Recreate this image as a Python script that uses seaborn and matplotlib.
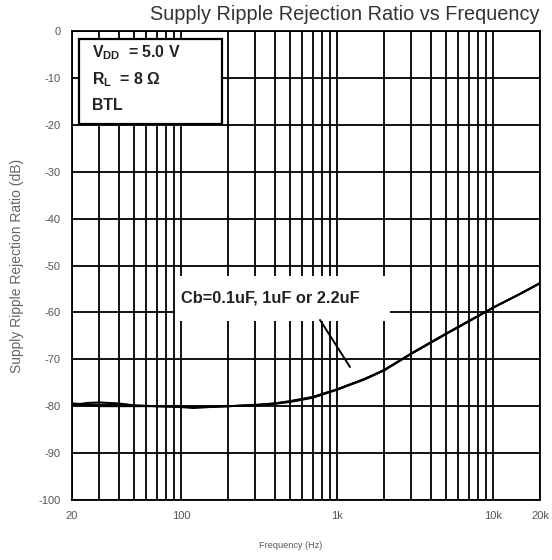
import matplotlib
matplotlib.use("Agg")
import matplotlib.pyplot as plt
from matplotlib.patches import Rectangle
import numpy as np
import pandas as pd
import seaborn as sns

# Frequency points (Hz) and PSRR curves (dB) for the three bypass capacitors
freq_hz = [20, 25, 30, 40, 50, 70, 100, 120, 150, 200, 300, 400, 500, 700,
           1000, 1500, 2000, 3000, 5000, 7000, 10000, 15000, 20000]
psrr_cb_0u1 = [-79.4, -79.6, -79.7, -79.5, -79.8, -80.0, -80.1, -80.2, -80.1, -80.0,
               -79.8, -79.5, -79.1, -78.2, -76.5, -74.3, -72.4, -68.8, -64.6, -61.9,
               -59.0, -56.0, -53.8]
psrr_cb_1u = [-79.8, -79.3, -79.2, -79.4, -79.9, -80.0, -80.2, -80.4, -80.2, -80.0,
              -79.8, -79.4, -79.0, -78.1, -76.4, -74.2, -72.3, -68.8, -64.6, -61.9,
              -59.0, -56.0, -53.8]
psrr_cb_2u2 = [-79.6, -79.8, -80.0, -80.0, -80.0, -80.0, -80.0, -80.1, -80.1, -80.0,
               -79.7, -79.4, -78.9, -78.0, -76.4, -74.2, -72.3, -68.7, -64.5, -61.8,
               -59.0, -56.0, -53.7]
cb_labels = ["0.1uF", "1uF", "2.2uF"]

x_tick_values = [20, 100, 1000, 10000, 20000]
x_tick_labels = ["20", "100", "1k", "10k", "20k"]
y_tick_values = list(range(-100, 1, 10))

title = "Supply Ripple Rejection Ratio vs Frequency"
x_label = "Frequency (Hz)"
y_label = "Supply Ripple Rejection Ratio (dB)"
cond_lines = ["V$_\\mathregular{DD}$  = 5.0 V", "R$_\\mathregular{L}$  = 8 Ω", "BTL"]
curve_note = "Cb=0.1uF, 1uF or 2.2uF"

df = pd.concat([
    pd.DataFrame({"freq": freq_hz, "psrr": vals, "cb": lab})
    for vals, lab in zip([psrr_cb_0u1, psrr_cb_1u, psrr_cb_2u2], cb_labels)
])

sns.set_style("white")
plt.rcParams["font.family"] = ["Liberation Sans", "DejaVu Sans"]

fig = plt.figure(figsize=(5.52, 5.60), dpi=100)
ax = fig.add_axes([72 / 552, 1 - 500 / 560, 468 / 552, 469 / 560])

sns.lineplot(data=df, x="freq", y="psrr", hue="cb", units="cb", estimator=None,
             palette=["black"] * 3, linewidth=1.4, legend=False, ax=ax, zorder=3)

ax.set_xscale("log")
ax.set_xlim(20, 20000)
ax.set_ylim(-100, 0)

minor = [m * d for d in (10, 100, 1000) for m in range(2, 10)]
minor = [v for v in minor if 20 < v < 20000 and v not in x_tick_values]
ax.set_xticks(x_tick_values)
ax.set_xticklabels(x_tick_labels)
ax.set_xticks(minor, minor=True)
ax.set_yticks(y_tick_values)
ax.set_yticklabels([str(v) for v in y_tick_values])

ax.set_axisbelow(True)
ax.grid(True, which="both", color="black", linewidth=1.3)
for s in ax.spines.values():
    s.set_color("black")
    s.set_linewidth(1.3)
ax.tick_params(which="both", length=0, labelsize=8, labelcolor="#555555")
ax.tick_params(axis="y", pad=8)
ax.tick_params(axis="x", pad=8)
ax.set_xlabel("")
ax.set_ylabel("")

# Operating conditions box
ax.add_patch(Rectangle((0.015, 0.8017), 0.3056, 0.1812, transform=ax.transAxes,
                       facecolor="white", edgecolor="black", linewidth=1.6, zorder=2))
for txt, yy in zip(cond_lines, [0.953, 0.8955, 0.842]):
    ax.text(0.0427, yy, txt, transform=ax.transAxes, ha="left", va="center",
            fontsize=11.4, fontweight="bold", color="#222222", zorder=4)

# Curve annotation with leader line
ax.add_patch(Rectangle((0.220, 0.3817), 0.459, 0.096, transform=ax.transAxes,
                       facecolor="white", edgecolor="none", zorder=2))
ax.text(0.233, 0.4307, curve_note, transform=ax.transAxes, ha="left", va="center",
        fontsize=11.8, fontweight="bold", color="#222222", zorder=4)
ax.plot([0.530, 0.594], [0.3838, 0.2836], transform=ax.transAxes,
        color="black", linewidth=1.4, zorder=4)

fig.text(540 / 552, 1 - 14 / 560, title, ha="right", va="center",
         fontsize=14.3, color="#333333")
fig.text(291 / 552, 1 - 545 / 560, x_label, ha="center", va="center",
         fontsize=6.6, color="#555555")
fig.text(17 / 552, 1 - 266 / 560, y_label, ha="center", va="center",
         rotation=90, fontsize=10, color="#666666")

fig.savefig("out.png", dpi=100)
